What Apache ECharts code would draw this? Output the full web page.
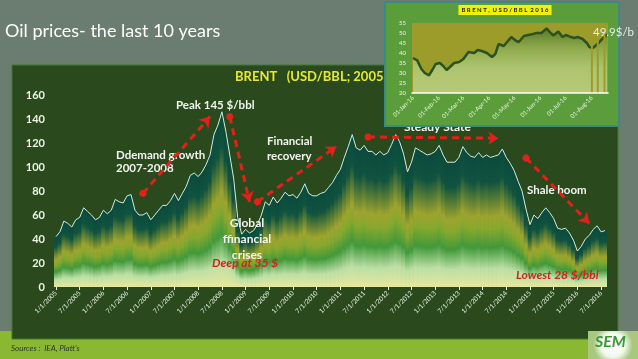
<!DOCTYPE html>
<html><head><meta charset="utf-8">
<script src="https://cdn.jsdelivr.net/npm/echarts@6/dist/echarts.min.js"></script>
<style>html,body{margin:0;padding:0;background:#6a7d70}#c{width:638px;height:359px}</style>
</head><body><div id="c"></div>
<script>
// ---- Main chart data: monthly Brent (USD/bbl), Jan 2005 .. Aug 2016 ----
const firstYear = 2005;
const brent2005 = [42, 46, 55, 53, 50, 56, 58, 66, 63, 60, 56, 58];
const brent2006 = [64, 61, 64, 73, 71, 70, 76, 77, 64, 60, 60, 62];
const brent2007 = [56, 60, 64, 68, 68, 72, 78, 72, 78, 84, 93, 95];
const brent2008 = [92, 96, 102, 110, 127, 135, 146, 130, 110, 90, 58, 44];
const brent2009 = [48, 45, 47, 52, 60, 71, 68, 75, 70, 74, 79, 76];
const brent2010 = [77, 74, 79, 86, 78, 76, 76, 78, 79, 83, 87, 93];
const brent2011 = [98, 108, 117, 127, 116, 114, 118, 113, 113, 110, 113, 110];
const brent2012 = [112, 119, 127, 121, 111, 96, 104, 116, 114, 112, 110, 111];
const brent2013 = [113, 118, 110, 104, 104, 104, 108, 117, 112, 109, 108, 112];
const brent2014 = [108, 110, 108, 109, 110, 115, 108, 103, 97, 88, 80, 65];
const brent2015 = [52, 60, 57, 62, 66, 62, 57, 49, 48, 49, 45, 39];
const brent2016 = [30, 34, 40, 43, 48, 51, 46, 47];
const brent = [].concat(brent2005, brent2006, brent2007, brent2008, brent2009, brent2010,
  brent2011, brent2012, brent2013, brent2014, brent2015, brent2016);
const months = [];
for (let i = 0; i < brent.length; i++) {
  months.push(((i % 12) + 1) + '/1/' + (firstYear + Math.floor(i / 12)));
}
const yTicks = [0, 20, 40, 60, 80, 100, 120, 140, 160];

// ---- Inset data: Brent 2016 ----
const inDates = ['2016-01-01','2016-01-06','2016-01-11','2016-01-15','2016-01-20','2016-01-24','2016-01-28',
  '2016-02-02','2016-02-06','2016-02-10','2016-02-14','2016-02-19','2016-02-25','2016-03-01','2016-03-07',
  '2016-03-14','2016-03-18','2016-03-23','2016-03-29','2016-04-04','2016-04-08','2016-04-12','2016-04-18',
  '2016-04-22','2016-04-27','2016-05-03','2016-05-06','2016-05-12','2016-05-17','2016-05-23','2016-05-27',
  '2016-06-02','2016-06-08','2016-06-13','2016-06-16','2016-06-22','2016-06-27','2016-07-01','2016-07-05',
  '2016-07-11','2016-07-15','2016-07-21','2016-07-26','2016-07-29','2016-08-02','2016-08-05','2016-08-09',
  '2016-08-12','2016-08-16','2016-08-19'];
const inValues = [37.5, 36.3, 32, 30, 28.8, 31.5, 34.5,
  35, 33.5, 31.5, 33, 35, 35.5, 37, 40.5,
  40, 41.5, 41, 40, 38, 39.5, 44.5, 43.5,
  45.5, 48, 46, 45.5, 48.5, 49, 49.5, 50,
  50, 52.3, 50, 48.8, 50.8, 48, 49, 48.3,
  47.5, 48, 47, 45, 43, 42.5, 43.5, 45,
  46.5, 48, 49.5];
const inGapDates = ['2016-08-01', '2016-08-08', '2016-08-16'];
const inGapTop = 55;
const monNames = ['Jan','Feb','Mar','Apr','May','Jun','Jul','Aug','Sep','Oct','Nov','Dec'];

const chart = echarts.init(document.getElementById('c'), null, {renderer: 'canvas'});
const F = 'Lato, "Open Sans", sans-serif';

const barGrad = new echarts.graphic.LinearGradient(0, 0, 0, 1, [
  {offset: 0, color: '#0b4a3d'},
  {offset: 0.2, color: '#10533f'},
  {offset: 0.46, color: '#9ea42e'},
  {offset: 0.56, color: '#86a82e'},
  {offset: 0.7, color: '#42993a'},
  {offset: 0.86, color: '#bcdfa6'},
  {offset: 1, color: '#e6e89c'}
]);

function arrow(x1, v1, x2, v2) {
  return [{coord: [x1, v1], symbol: 'circle', symbolSize: 7},
          {coord: [x2, v2], symbol: 'arrow', symbolSize: 10}];
}

const option = {
  backgroundColor: '#6a7d70',
  animation: false,
  grid: [
    {left: 54, right: 31, top: 95, bottom: 72},
    {left: 412, right: 30, top: 23, bottom: 266, show: true, backgroundColor: '#9c9c2a', borderWidth: 0, z: 1.8}
  ],
  xAxis: [{
    type: 'category', gridIndex: 0, data: months, boundaryGap: true,
    axisLine: {show: false},
    axisTick: {show: true, interval: 5, alignWithLabel: true, length: 3, lineStyle: {color: '#e8f0e0'}},
    axisLabel: {interval: 5, rotate: 45, color: '#e8f0e0', fontSize: 6.5, fontFamily: F, margin: 5}
  }, {
    type: 'time', gridIndex: 1, min: '2016-01-01', max: '2016-08-19', splitNumber: 8, z: 6,
    axisLine: {show: true, lineStyle: {color: '#ffffff', width: 1.5}},
    axisTick: {show: false},
    splitLine: {show: false},
    axisLabel: {rotate: 45, color: '#f0f4e8', fontSize: 6, fontFamily: F, margin: 4, hideOverlap: false,
      formatter: function (v) {
        const d = new Date(v);
        const dd = ('0' + d.getDate()).slice(-2);
        return dd + '-' + monNames[d.getMonth()] + '-16';
      }}
  }],
  yAxis: [{
    type: 'value', gridIndex: 0, min: yTicks[0], max: yTicks[yTicks.length - 1], interval: 20,
    axisLine: {show: false}, axisTick: {show: false}, splitLine: {show: false},
    axisLabel: {color: '#eef2e6', fontSize: 11, fontWeight: 'bold', fontFamily: F, margin: 9}
  }, {
    type: 'value', gridIndex: 1, min: 20, max: 55, interval: 5, z: 6,
    axisLine: {show: false}, axisTick: {show: false}, splitLine: {show: false},
    axisLabel: {color: '#f0f4e8', fontSize: 6, fontFamily: F, margin: 6}
  }],
  series: [{
    type: 'bar', xAxisIndex: 0, yAxisIndex: 0, data: brent, barWidth: 4.6,
    itemStyle: {color: barGrad}, silent: true
  }, {
    type: 'line', xAxisIndex: 0, yAxisIndex: 0, data: brent, symbol: 'none',
    lineStyle: {color: '#d4ecdc', width: 1}, silent: true, z: 3,
    markLine: {
      silent: true, animation: false, label: {show: false},
      lineStyle: {color: '#e0221a', width: 3, type: [7, 5]},
      data: [
        arrow(22, 78, 38.5, 142),
        arrow(43.5, 142, 49, 71),
        arrow(51, 71, 71.4, 117),
        arrow(79, 125, 112.4, 124),
        arrow(118.5, 107.5, 134.7, 53)
      ]
    }
  }, {
    type: 'line', xAxisIndex: 1, yAxisIndex: 1,
    data: inDates.map((d, i) => [d, inValues[i]]),
    symbol: 'none', lineStyle: {color: '#2c521f', width: 2.5},
    areaStyle: {origin: 'start', color: new echarts.graphic.LinearGradient(0, 0, 0, 1, [
      {offset: 0, color: '#3e6a28'},
      {offset: 0.3, color: '#88b05a'},
      {offset: 0.6, color: '#b4d48c'},
      {offset: 1, color: '#c4dc9a'}
    ])}, silent: true
  }, {
    type: 'bar', xAxisIndex: 1, yAxisIndex: 1, barWidth: 2,
    data: inGapDates.map(d => [d, inGapTop]), itemStyle: {color: '#9c9c2a'}, silent: true, z: 4
  }],
  graphic: [
    {type: 'rect', z: -5, shape: {x: 0, y: 331, width: 638, height: 28}, style: {fill: '#8ab833'}},
    {type: 'rect', z: -4, shape: {x: 12, y: 65, width: 606, height: 274}, style: {fill: '#2a4a1e', stroke: '#3f7a2c', lineWidth: 1}},
    {type: 'text', z: 1, x: 5, y: 31, style: {text: 'Oil prices- the last 10 years', fill: '#ffffff', font: '18px ' + F, textVerticalAlign: 'middle'}},
    {type: 'text', z: 1, x: 235, y: 77, style: {text: 'BRENT   (USD/BBL; 2005-2016)', fill: '#e8e830', font: 'bold 13px ' + F, textVerticalAlign: 'middle'}},
    {type: 'text', z: 1, x: 116, y: 155, style: {text: 'Ddemand growth', fill: '#f2f4ee', font: 'bold 11.5px ' + F, textVerticalAlign: 'middle'}},
    {type: 'text', z: 1, x: 116, y: 168, style: {text: '2007-2008', fill: '#f2f4ee', font: 'bold 11.5px ' + F, textVerticalAlign: 'middle'}},
    {type: 'text', z: 1, x: 176, y: 105, style: {text: 'Peak 145 $/bbl', fill: '#f2f4ee', font: 'bold 11.5px ' + F, textVerticalAlign: 'middle'}},
    {type: 'text', z: 1, x: 267, y: 141, style: {text: 'Financial', fill: '#f2f4ee', font: 'bold 11.5px ' + F, textVerticalAlign: 'middle'}},
    {type: 'text', z: 1, x: 267, y: 156, style: {text: 'recovery', fill: '#f2f4ee', font: 'bold 11.5px ' + F, textVerticalAlign: 'middle'}},
    {type: 'text', z: 5, x: 247, y: 223, style: {text: 'Global', fill: '#f2f4ee', font: 'bold 12px ' + F, textAlign: 'center', textVerticalAlign: 'middle'}},
    {type: 'text', z: 5, x: 247, y: 239, style: {text: 'ffinancial', fill: '#f2f4ee', font: 'bold 12px ' + F, textAlign: 'center', textVerticalAlign: 'middle'}},
    {type: 'text', z: 5, x: 247, y: 255, style: {text: 'crises', fill: '#f2f4ee', font: 'bold 12px ' + F, textAlign: 'center', textVerticalAlign: 'middle'}},
    {type: 'text', z: 5, x: 212, y: 263, style: {text: 'Deep at 35 $', fill: '#d8201c', font: 'italic bold 12px ' + F, textVerticalAlign: 'middle'}},
    {type: 'text', z: 1, x: 404, y: 127, style: {text: 'Steady State', fill: '#f2f4ee', font: 'bold 12px ' + F, textVerticalAlign: 'middle'}},
    {type: 'text', z: 5, x: 527, y: 190, style: {text: 'Shale boom', fill: '#f2f4ee', font: 'bold 11.5px ' + F, textVerticalAlign: 'middle'}},
    {type: 'text', z: 5, x: 516, y: 275, style: {text: 'Lowest 28 $/bbl', fill: '#d8201c', font: 'italic bold 12px ' + F, textVerticalAlign: 'middle'}},
    {type: 'text', z: 1, x: 11, y: 348, style: {text: "Sources :  IEA, Platt's", fill: '#2a3a28', font: 'italic 8px ' + F, textVerticalAlign: 'middle'}},
    // inset panel
    {type: 'rect', z: 1.5, shape: {x: 385, y: 2, width: 234, height: 124}, style: {fill: '#5b9d3b', stroke: '#3a8a86', lineWidth: 2}},
    {type: 'text', z: 1.9, x: 505, y: 10, style: {text: 'B R E N T ,  U S D / B B L  2 0 1 6', fill: '#1a1a1a', font: 'bold 6px ' + F, textAlign: 'center', textVerticalAlign: 'middle', backgroundColor: '#f2f200', padding: [2, 3]}},
    {type: 'text', z: 6, x: 593, y: 32, style: {text: '49.9$/b', fill: '#e6eee6', font: '11.5px ' + F, textVerticalAlign: 'middle'}},
    // logo
    {type: 'rect', z: 1, shape: {x: 588, y: 331, width: 50, height: 28}, style: {fill: new echarts.graphic.RadialGradient(0.5, 0.5, 0.7, [
      {offset: 0, color: '#ffffff'}, {offset: 0.6, color: '#f4f8ee'}, {offset: 1, color: '#a8c880'}])}},
    {type: 'text', z: 2, x: 595, y: 342, style: {text: 'SEM', fill: '#3a9a3a', font: 'italic bold 16px ' + F, textVerticalAlign: 'middle'}}
  ]
};
chart.setOption(option);
</script>
</body></html>
